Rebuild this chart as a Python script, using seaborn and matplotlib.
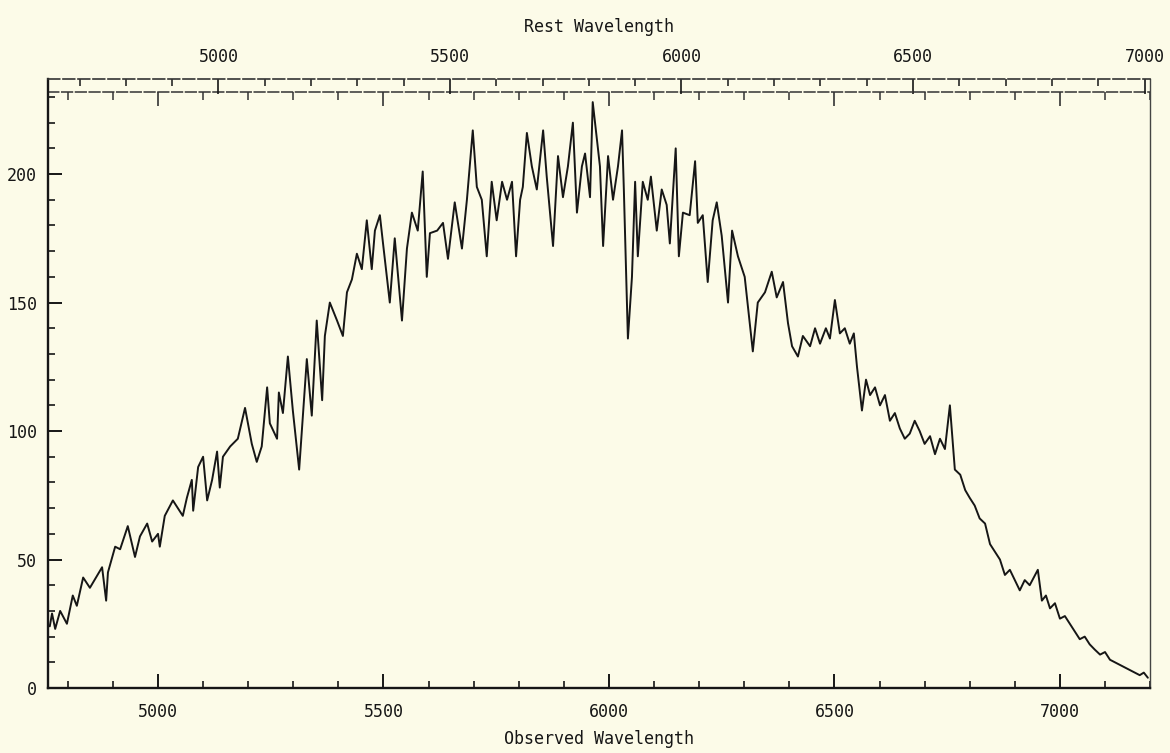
import matplotlib
matplotlib.use("Agg")
import matplotlib.pyplot as plt
from matplotlib.ticker import MultipleLocator, FixedLocator, NullFormatter
import seaborn as sns

# spectrum (observed wavelength, counts)
wavelength = [
    4760, 4765, 4772, 4783, 4798, 4811, 4820, 4834, 4849, 4876, 4885, 4889,
    4905, 4916, 4933, 4949, 4960, 4976, 4987, 5000, 5004, 5015, 5033, 5055,
    5064, 5075, 5078, 5089, 5100, 5109, 5120, 5131, 5137, 5144, 5160, 5177,
    5193, 5208, 5219, 5230, 5242, 5248, 5264, 5268, 5277, 5288, 5299, 5313,
    5330, 5341, 5352, 5364, 5370, 5381, 5397, 5410, 5419, 5430, 5441, 5452,
    5463, 5474, 5481, 5492, 5499, 5514, 5525, 5541, 5552, 5563, 5576, 5587,
    5596, 5603, 5619, 5632, 5643, 5658, 5674, 5685, 5698, 5707, 5718, 5729,
    5740, 5751, 5763, 5774, 5785, 5794, 5803, 5809, 5818, 5829, 5840, 5854,
    5862, 5876, 5887, 5898, 5909, 5920, 5929, 5940, 5947, 5958, 5964, 5973,
    5980, 5987, 5998, 6009, 6020, 6029, 6033, 6042, 6051, 6058, 6064, 6075,
    6086, 6093, 6106, 6117, 6128, 6135, 6148, 6155, 6164, 6179, 6191, 6197,
    6208, 6219, 6230, 6239, 6250, 6264, 6273, 6286, 6301, 6319, 6330, 6346,
    6361, 6372, 6386, 6397, 6406, 6419, 6430, 6446, 6457, 6468, 6481, 6490,
    6501, 6512, 6523, 6534, 6543, 6550, 6561, 6570, 6579, 6590, 6601, 6612,
    6623, 6634, 6645, 6656, 6667, 6678, 6689, 6700, 6712, 6723, 6734, 6745,
    6756, 6767, 6779, 6790, 6800, 6811, 6822, 6834, 6845, 6856, 6867, 6878,
    6889, 6900, 6911, 6922, 6933, 6942, 6951, 6960, 6969, 6978, 6989, 7000,
    7011, 7022, 7033, 7044, 7055, 7066, 7077, 7089, 7100, 7111, 7122, 7133,
    7144, 7155, 7166, 7177, 7186, 7195,
]
flux = [
    24, 29, 23, 30, 25, 36, 32, 43, 39, 47, 34, 45,
    55, 54, 63, 51, 59, 64, 57, 60, 55, 67, 73, 67,
    74, 81, 69, 86, 90, 73, 81, 92, 78, 90, 94, 97,
    109, 95, 88, 94, 117, 103, 97, 115, 107, 129, 108, 85,
    128, 106, 143, 112, 137, 150, 143, 137, 154, 159, 169, 163,
    182, 163, 178, 184, 173, 150, 175, 143, 171, 185, 178, 201,
    160, 177, 178, 181, 167, 189, 171, 190, 217, 195, 190, 168,
    197, 182, 197, 190, 197, 168, 190, 195, 216, 203, 194, 217,
    199, 172, 207, 191, 203, 220, 185, 203, 208, 191, 228, 214,
    203, 172, 207, 190, 203, 217, 194, 136, 160, 197, 168, 197,
    190, 199, 178, 194, 188, 173, 210, 168, 185, 184, 205, 181,
    184, 158, 182, 189, 176, 150, 178, 168, 160, 131, 150, 154,
    162, 152, 158, 142, 133, 129, 137, 133, 140, 134, 140, 136,
    151, 138, 140, 134, 138, 125, 108, 120, 114, 117, 110, 114,
    104, 107, 101, 97, 99, 104, 100, 95, 98, 91, 97, 93,
    110, 85, 83, 77, 74, 71, 66, 64, 56, 53, 50, 44,
    46, 42, 38, 42, 40, 43, 46, 34, 36, 31, 33, 27,
    28, 25, 22, 19, 20, 17, 15, 13, 14, 11, 10, 9,
    8, 7, 6, 5, 6, 4,
]
redshift = 0.0268
rest_ticks = [5000, 5500, 6000, 6500, 7000]

bg = "#fcfbe8"
ink = "#161616"

sns.set_theme(style="ticks")
plt.rcParams["font.family"] = ["DejaVu Sans Mono", "DejaVu Sans"]

fig = plt.figure(figsize=(11.7, 7.53), dpi=100, facecolor=bg)
ax = fig.add_axes([0.041, 0.0863, 0.942, 0.8088])
ax.set_facecolor(bg)

sns.lineplot(x=wavelength, y=flux, ax=ax, color=ink, linewidth=1.4)

ax.set_xlim(4756, 7200)
ax.set_ylim(0, 237)
ax.xaxis.set_major_locator(MultipleLocator(500))
ax.xaxis.set_minor_locator(MultipleLocator(100))
ax.yaxis.set_major_locator(MultipleLocator(50))
ax.yaxis.set_minor_locator(MultipleLocator(10))
ax.tick_params(which="both", direction="in", top=False, right=False,
               labelsize=12, colors=ink)
ax.tick_params(which="major", length=10, width=1.4)
ax.tick_params(which="minor", length=5, width=1.2)
ax.tick_params(axis="x", pad=11)
ax.tick_params(axis="y", pad=8)
ax.set_xlabel("Observed Wavelength", fontsize=12, labelpad=6, color=ink)
ax.set_ylabel("")

for side in ["left", "bottom"]:
    ax.spines[side].set_linewidth(1.7)
    ax.spines[side].set_color(ink)
ax.spines["right"].set_linewidth(1.0)
ax.spines["right"].set_color("#444444")
ax.spines["top"].set_linewidth(1.2)
ax.spines["top"].set_color("#333333")
ax.spines["top"].set_linestyle((0, (7, 2)))

# inner line with the observed-wavelength ticks just under the top frame
inner = ax.secondary_xaxis(232 / 237, functions=(lambda w: w, lambda w: w))
inner.xaxis.set_major_locator(MultipleLocator(500))
inner.xaxis.set_minor_locator(MultipleLocator(100))
inner.xaxis.set_major_formatter(NullFormatter())
inner.tick_params(which="both", direction="in", colors="#333333")
inner.tick_params(which="major", length=10, width=1.2)
inner.tick_params(which="minor", length=6, width=1.1)
for side in ["top", "bottom"]:
    inner.spines[side].set_linewidth(1.1)
    inner.spines[side].set_color("#333333")
    inner.spines[side].set_linestyle((0, (7, 2)))

# rest wavelength scale on the outer top line
rest = ax.secondary_xaxis(
    "top",
    functions=(lambda w: w / (1 + redshift), lambda r: r * (1 + redshift)),
)
rest.xaxis.set_major_locator(FixedLocator(rest_ticks))
rest.xaxis.set_minor_locator(FixedLocator(list(range(4700, 7001, 100))))
rest.tick_params(which="both", direction="in", labelsize=12, colors=ink, pad=9)
rest.tick_params(which="major", length=11, width=1.2)
rest.tick_params(which="minor", length=5, width=1.1)
rest.set_xlabel("Rest Wavelength", fontsize=12, labelpad=12, color=ink)
rest.spines["top"].set_visible(False)
rest.spines["bottom"].set_visible(False)

plt.savefig("out.png", dpi=100, facecolor=bg)
plt.close()
